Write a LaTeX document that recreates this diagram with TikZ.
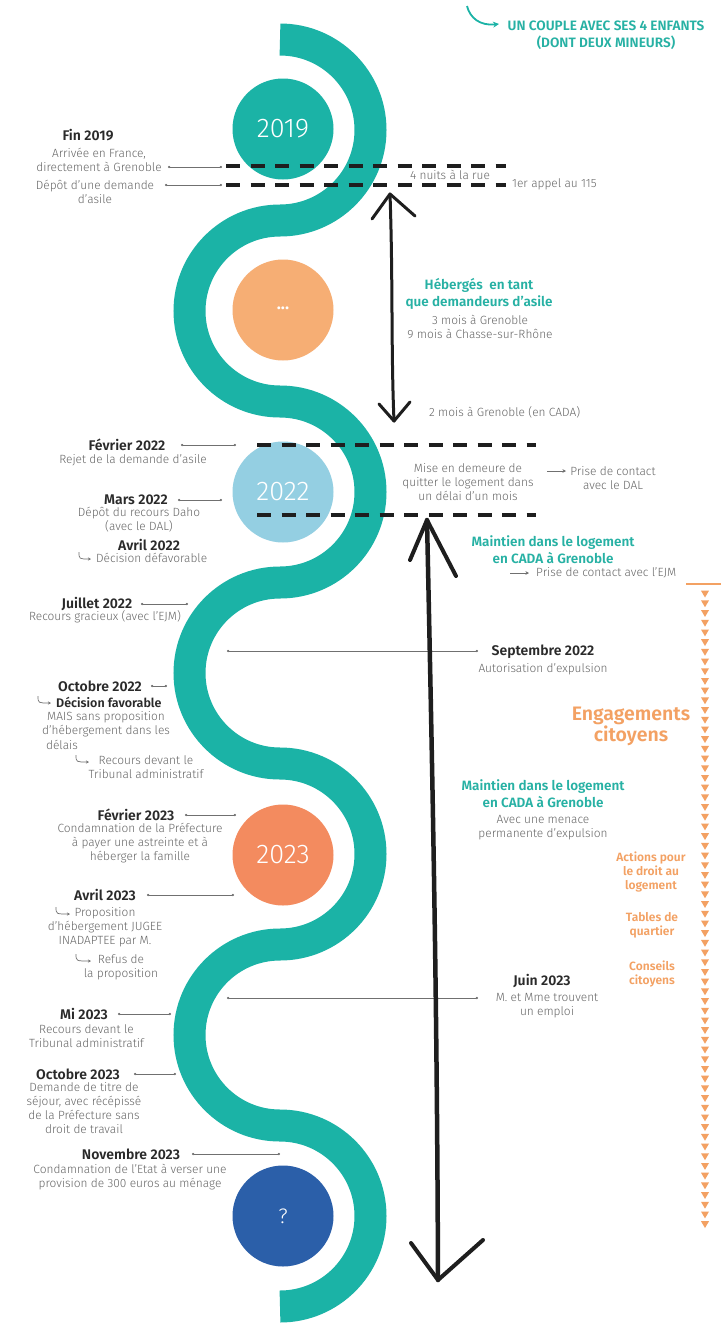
\documentclass[tikz,border=0pt]{standalone}
\usepackage{fontspec}
\setmainfont{Fira Sans Light}[BoldFont={Fira Sans SemiBold}]
\usetikzlibrary{arrows.meta}
\definecolor{teala}{HTML}{1BB3A6}
\definecolor{orangec}{HTML}{F6AE74}
\definecolor{bluec}{HTML}{94CFE2}
\definecolor{salmonc}{HTML}{F38B5F}
\definecolor{navyc}{HTML}{2B5FA9}
\definecolor{desccol}{HTML}{666666}
\definecolor{datecol}{HTML}{2A2A2A}
\definecolor{tealtxt}{HTML}{27B1A4}
\definecolor{orangetxt}{HTML}{F3A163}
\definecolor{tickcol}{HTML}{707070}
\definecolor{blk}{HTML}{1E1E1E}
\tikzset{
  desctxt/.style={font=\fontsize{11.9}{14}\selectfont, text=desccol, align=center, inner sep=0pt},
  datetxt/.style={font=\fontsize{14}{15}\selectfont\bfseries, text=datecol, inner sep=0pt},
  headtxt/.style={font=\fontsize{13.5}{17}\selectfont\bfseries, text=tealtxt, align=center, inner sep=0pt},
  orngtxt/.style={font=\fontsize{12}{14}\selectfont\bfseries, text=orangetxt, align=center, inner sep=0pt},
  tickline/.style={draw=tickcol, line width=0.7pt, {Circle[length=2.2pt]}-{Circle[length=2.2pt]}},
  smallarrow/.style={draw=tickcol, line width=0.7pt, -{Stealth[length=3.5pt,width=3.5pt]}},
  hookarrow/.style={draw=tickcol, line width=0.7pt, -{Stealth[length=3pt,width=3pt]}},
  dashl/.style={draw=blk, line width=3.5pt, dash pattern=on 14pt off 10.5pt},
  yearcirc/.style={circle, minimum size=101pt, inner sep=0pt, font=\fontsize{27}{27}\selectfont, text=white},
  handarrow/.style={draw=blk, line cap=round, line join=round},
}
\begin{document}
\begin{tikzpicture}[x=1pt, y=-1pt]
\useasboundingbox (0,0) rectangle (727,1323);
\fill[white] (0,0) rectangle (727,1323);

% snake
\draw[teala, line width=32pt] (280,39.5)
  arc[start angle=90,end angle=-90,radius=90.5pt]
  arc[start angle=90,end angle=270,radius=90.5pt]
  arc[start angle=90,end angle=-90,radius=90.5pt]
  arc[start angle=90,end angle=270,radius=90.5pt]
  arc[start angle=90,end angle=-90,radius=90.5pt]
  arc[start angle=90,end angle=270,radius=90.5pt]
  arc[start angle=90,end angle=-90,radius=90.5pt];

% circles
\node[yearcirc, fill=teala] (c2019) at (283,129) {2019};
\node[yearcirc, fill=orangec, font=\fontsize{17}{17}\selectfont\bfseries] (cdots) at (283,310) {\raisebox{4pt}{...}};
\node[yearcirc, fill=bluec] (c2022) at (283,492) {2022};
\node[yearcirc, fill=salmonc] (c2023) at (283,855) {2023};
\node[yearcirc, fill=navyc, font=\fontsize{21}{21}\selectfont] (cq) at (283,1216) {?};

% top right
\node[font=\fontsize{13.6}{17}\selectfont\bfseries, text=tealtxt, align=center, inner sep=0pt] (couple) at (606,35.5) {UN COUPLE AVEC SES 4 ENFANTS\\(DONT DEUX MINEURS)};
\coordinate (tarrA) at (467,6);
\coordinate (tarrB) at (499,24);
\draw[teala, line width=1.8pt, -{Stealth[length=6pt,width=6pt]}] (tarrA) .. controls (470,18) and (480,26) .. (tarrB);

% ---- 2019 block
\node[datetxt] (fin) at (88,135) {Fin 2019};
\node[desctxt] (arr) at (99,159.5) {Arrivée en France,\\directement à Grenoble};
\node[desctxt] (dep) at (95,192) {Dépôt d’une demande\\d’asile};
\coordinate (t1a) at (168,167); \coordinate (t1b) at (222,167);
\coordinate (t2a) at (165,185); \coordinate (t2b) at (222,185);
\draw[tickline] (t1a) -- (t1b);
\draw[tickline] (t2a) -- (t2b);
\coordinate (d1a) at (226,166); \coordinate (d1b) at (506,166);
\coordinate (d2a) at (226,185); \coordinate (d2b) at (506,185);
\draw[dashl] (d1a) -- (d1b);
\draw[dashl] (d2a) -- (d2b);
\node[desctxt] (nuits) at (450,175) {4 nuits à la rue};
\node[desctxt, anchor=west] (appel) at (512,184) {1er appel au 115};

% arrow 1
\coordinate (a1t) at (390,194); \coordinate (a1b) at (394,421);
\coordinate (a1l) at (372,219); \coordinate (a1r) at (415,216);
\coordinate (a1bl) at (379,404); \coordinate (a1br) at (410,402);
\draw[handarrow, line width=3pt] (a1t) .. controls (393,280) and (391,350) .. (a1b);
\draw[handarrow, line width=3pt] (a1l) -- (a1t) -- (a1r);
\draw[handarrow, line width=3pt] (a1bl) -- (a1b) -- (a1br);

\node[headtxt] (heb) at (479,293.5) {Hébergés~ en tant\\que demandeurs d’asile};
\node[desctxt] (mois) at (480,327) {3 mois à Grenoble\\9 mois à Chasse-sur-Rhône};
\node[desctxt, anchor=west] (cada2) at (429,412) {2 mois à Grenoble (en CADA)};

% ---- 2022 block
\node[datetxt] (fev22) at (127,445) {Février 2022};
\node[desctxt] (rejet) at (133,460) {Rejet de la demande d’asile};
\coordinate (t3a) at (181,445); \coordinate (t3b) at (236,445);
\draw[tickline] (t3a) -- (t3b);
\coordinate (d3a) at (257,445); \coordinate (d3b) at (536,445);
\coordinate (d4a) at (257,515); \coordinate (d4b) at (536,515);
\draw[dashl] (d3a) -- (d3b);
\draw[dashl] (d4a) -- (d4b);
\node[desctxt] (mise) at (468,482) {Mise en demeure de\\quitter le logement dans\\un délai d’un mois};
\node[desctxt] (dal) at (613,478) {Prise de contact\\avec le DAL};
\coordinate (s1a) at (547,471); \coordinate (s1b) at (566,471);
\draw[smallarrow] (s1a) -- (s1b);
\node[datetxt] (mars) at (136,500) {Mars 2022};
\coordinate (t4a) at (178,500); \coordinate (t4b) at (222,500);
\draw[tickline] (t4a) -- (t4b);
\node[desctxt] (daho) at (139,519.5) {Dépôt du recours Daho\\(avec le DAL)};
\node[datetxt] (avr22) at (149,545) {Avril 2022};
\node[desctxt, anchor=west] (defav) at (96,558) {Décision défavorable};
\coordinate (h1a) at (79,552); \coordinate (h1b) at (91,559);
\draw[hookarrow] (h1a) .. controls (79,559) .. (h1b);
\node[headtxt] (maint1) at (553,549.5) {Maintien dans le logement\\en CADA à Grenoble};
\node[desctxt, anchor=west] (ejm) at (536,573) {Prise de contact avec l’EJM};
\coordinate (s2a) at (510,573); \coordinate (s2b) at (529,573);
\draw[smallarrow] (s2a) -- (s2b);

\node[datetxt] (juil) at (97,604) {Juillet 2022};
\coordinate (t5a) at (141,604); \coordinate (t5b) at (188,604);
\draw[tickline] (t5a) -- (t5b);
\node[desctxt] (grac) at (105,617) {Recours gracieux (avec l’EJM)};

\node[datetxt] (sept) at (543,652) {Septembre 2022};
\node[desctxt] (autor) at (543,669) {Autorisation d’expulsion};
\coordinate (t6a) at (227,651); \coordinate (t6b) at (478,651);
\draw[tickline] (t6a) -- (t6b);

\node[datetxt] (oct22) at (100,686) {Octobre 2022};
\coordinate (t7a) at (151,686); \coordinate (t7b) at (167,686);
\draw[tickline] (t7a) -- (t7b);
\node[desctxt, anchor=west, font=\fontsize{12.5}{14}\selectfont\bfseries, text=datecol] (fav) at (56,702) {Décision favorable};
\coordinate (h2a) at (38,696); \coordinate (h2b) at (51,703);
\draw[hookarrow] (h2a) .. controls (38,703) .. (h2b);
\node[desctxt] (mais) at (106,724) {MAIS sans proposition\\d’hébergement dans les};
\node[desctxt] (delais) at (62,745) {délais};
\node[desctxt] (recours1) at (146,767.5) {Recours devant le\\Tribunal administratif};
\coordinate (h3a) at (76,755); \coordinate (h3b) at (89,762);
\draw[hookarrow] (h3a) .. controls (76,762) .. (h3b);

\node[font=\fontsize{19.5}{21}\selectfont\bfseries, text=orangetxt, align=center, inner sep=0pt] (engag) at (631,726.5) {Engagements\\citoyens};
\node[headtxt] (maint2) at (543,794) {Maintien dans le logement\\en CADA à Grenoble};
\node[desctxt] (menace) at (543,827.5) {Avec une menace\\permanente d’expulsion};

% ---- 2023 block
\node[datetxt] (fev23) at (136,815) {Février 2023};
\coordinate (t8a) at (185,815); \coordinate (t8b) at (236,815);
\draw[tickline] (t8a) -- (t8b);
\node[desctxt] (cond) at (140,843) {Condamnation de la Préfecture\\à payer une astreinte et à\\héberger la famille};
\node[orngtxt] (actions) at (651,872) {Actions pour\\le droit au\\logement};
\node[datetxt] (avr23) at (105,895) {Avril 2023};
\coordinate (t9a) at (147,895); \coordinate (t9b) at (234,895);
\draw[tickline] (t9a) -- (t9b);
\node[desctxt] (prop) at (105,927.5) {Proposition\\d’hébergement JUGEE\\INADAPTEE par M.};
\coordinate (h4a) at (56,907); \coordinate (h4b) at (70,914);
\draw[hookarrow] (h4a) .. controls (56,914) .. (h4b);
\node[orngtxt] (tables) at (652,925) {Tables de\\quartier};
\node[desctxt] (refus) at (121,967) {Refus de\\la proposition};
\coordinate (h5a) at (76,954); \coordinate (h5b) at (91,961);
\draw[hookarrow] (h5a) .. controls (76,961) .. (h5b);
\node[orngtxt] (conseils) at (652,974) {Conseils\\citoyens};
\node[datetxt] (juin) at (542,981) {Juin 2023};
\node[desctxt] (emploi) at (547,1005.5) {M. et Mme trouvent\\un emploi};
\coordinate (t10a) at (227,998); \coordinate (t10b) at (478,998);
\draw[tickline] (t10a) -- (t10b);

\node[datetxt] (mi) at (84,1014) {Mi 2023};
\coordinate (t11a) at (118,1014); \coordinate (t11b) at (171,1014);
\draw[tickline] (t11a) -- (t11b);
\node[desctxt] (recours2) at (86.5,1036) {Recours devant le\\Tribunal administratif};
\node[datetxt] (oct23) at (78,1074) {Octobre 2023};
\coordinate (t12a) at (134,1074); \coordinate (t12b) at (176,1074);
\draw[tickline] (t12a) -- (t12b);
\node[desctxt] (titre) at (84,1108.5) {Demande de titre de\\séjour, avec récépissé\\de la Préfecture sans\\droit de travail};
\node[datetxt] (nov) at (131,1154) {Novembre 2023};
\coordinate (t13a) at (192,1154); \coordinate (t13b) at (280,1154);
\draw[tickline] (t13a) -- (t13b);
\node[desctxt] (condetat) at (130,1177.5) {Condamnation de l’Etat à verser une\\provision de 300 euros au ménage};

% long arrow
\coordinate (a2t) at (427,520); \coordinate (a2b) at (438,1280);
\coordinate (a2l) at (410,560); \coordinate (a2r) at (456,576);
\coordinate (a2bl) at (411,1243); \coordinate (a2br) at (483,1240);
\draw[handarrow, line width=4.5pt] (a2t) .. controls (433,800) and (437,1000) .. (a2b);
\draw[handarrow, line width=4pt] (a2l) -- (a2t) -- (a2r);
\draw[handarrow, line width=4pt] (a2bl) -- (a2b) -- (a2br);

% orange engagement column
\coordinate (o1) at (686,584); \coordinate (o2) at (721,584);
\draw[orangetxt, line width=1.5pt] (o1) -- (o2);
\foreach \k in {0,...,65}{
  \pgfmathsetmacro{\yy}{594+9.7*\k}
  \fill[orangetxt] (701,\yy-3.3) -- (709,\yy-3.3) -- (705,\yy+3.5) -- cycle;
}
\end{tikzpicture}
\end{document}
